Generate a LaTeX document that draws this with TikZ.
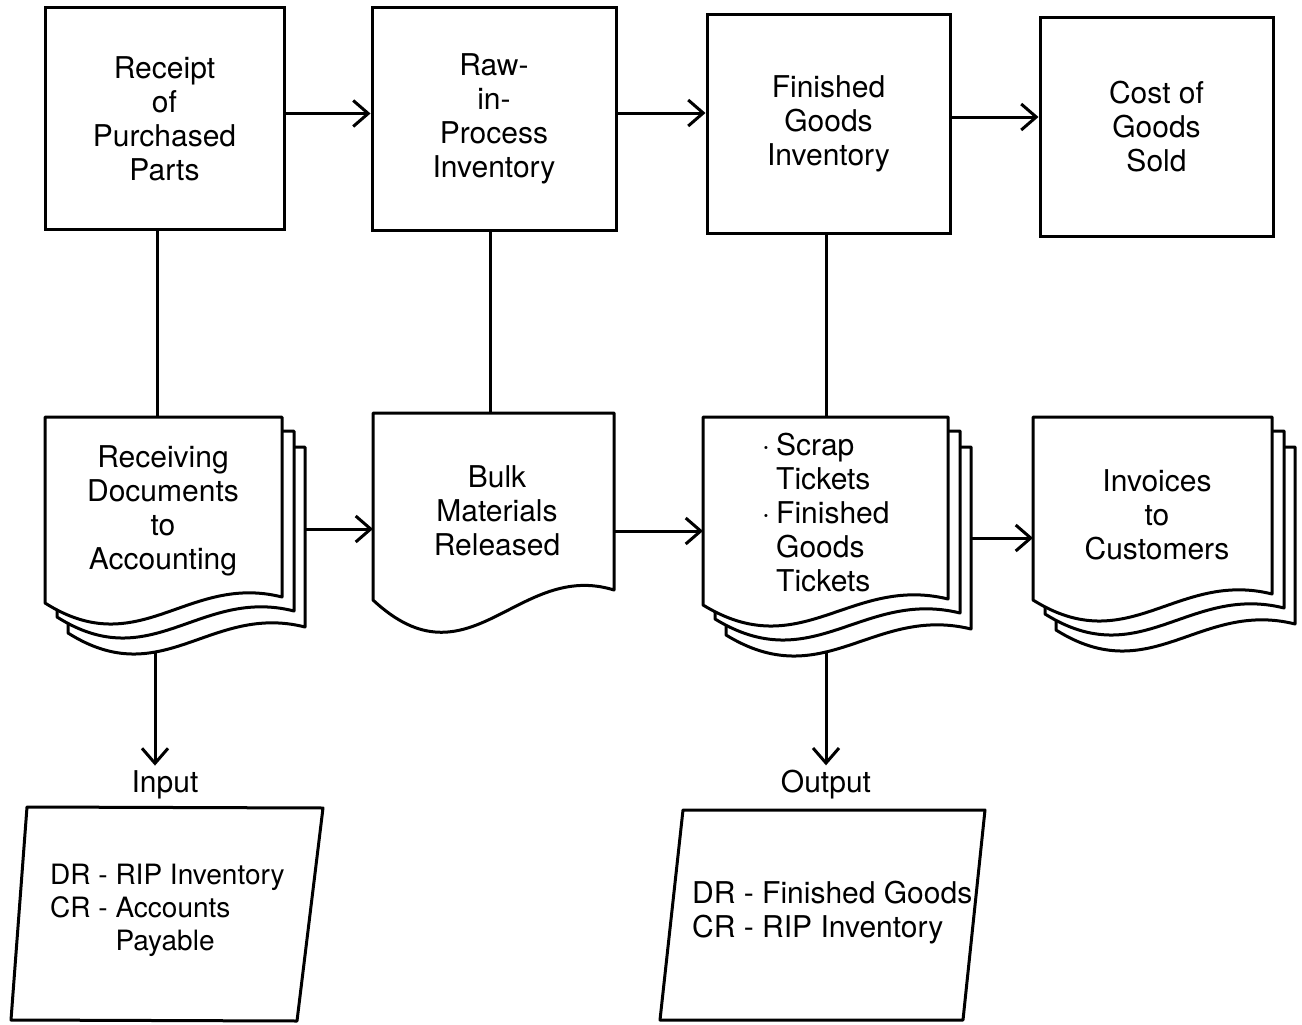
\documentclass[tikz,border=0pt]{standalone}
\usepackage{fontspec}
\setmainfont{TeX Gyre Heros}
\usetikzlibrary{arrows.meta}

\tikzset{
  x=1pt, y=-1pt,
  lw/.style={line width=3pt},
  txt/.style={align=center, inner sep=0pt, font=\fontsize{30}{34}\selectfont},
  box/.style={draw, lw, txt},
  lbl/.style={inner sep=5pt, font=\fontsize{30}{34}\selectfont},
  arr/.style={lw, -{Straight Barb[length=15pt,width=26pt]}},
  conn/.style={lw},
}

% one page of a document symbol: left x, top y, right x, bottom-left y,
% wave dip, wave rise, right-end rise
\newcommand\docpg[7]{%
  \draw[lw, fill=white, line join=round]
    ({#1},{#4}) -- ({#1},{#2}) -- ({#3},{#2}) -- ({#3},{(#4)-(#7)})
    .. controls ({(#1)+0.6*((#3)-(#1))},{(#4)-(#6)})
            and ({(#1)+0.4*((#3)-(#1))},{(#4)+(#5)}) .. ({#1},{#4}) -- cycle;}

% stack of three pages
\newcommand\multidoc[4]{%
  \docpg{(#1)+23}{(#2)+30}{(#3)+23}{(#4)+30}{60}{30}{6}%
  \docpg{(#1)+12}{(#2)+14}{(#3)+12}{(#4)+14}{60}{30}{6}%
  \docpg{#1}{#2}{#3}{#4}{60}{30}{6}}

\begin{document}
\begin{tikzpicture}
\useasboundingbox (0,0) rectangle (1302,1025);

% top row: process boxes
\node[box, minimum width=239pt, minimum height=221pt] (b1) at (164.5,118.5)
  {Receipt\\of\\Purchased\\Parts};
\node[box, minimum width=244pt, minimum height=222pt] (b2) at (494,119)
  {Raw-\\in-\\Process\\Inventory};
\node[box, minimum width=243pt, minimum height=218pt] (b3) at (828.5,124)
  {Finished\\Goods\\Inventory};
\node[box, minimum width=233pt, minimum height=218pt] (b4) at (1156.5,127)
  {Cost of\\Goods\\Sold};

\draw[arr] ([yshift=5pt]b1.east) -- ([yshift=5pt]b1.east -| b2.west);
\draw[arr] ([yshift=6pt]b2.east) -- ([yshift=6pt]b2.east -| b3.west);
\draw[arr] ([yshift=7pt]b3.east) -- ([yshift=7pt]b3.east -| b4.west);

% connection points on the document row
\coordinate (d1t) at (157,417);
\coordinate (d2t) at (490,413);
\coordinate (d3t) at (826,417);
\coordinate (d1r) at (305,529);
\coordinate (d2l) at (373,529);
\coordinate (d2r) at (614,531);
\coordinate (d3l) at (703,531);
\coordinate (d3r) at (970,538);
\coordinate (d4l) at (1033,538);
\coordinate (d1b) at (155,640);
\coordinate (d3b) at (826,645);

% labels under the documents
\node[lbl] (inl) at (165,785) {Input};
\node[lbl] (outl) at (826,785) {Output};

% down arrows (their upper ends are hidden by the pages)
\draw[arr] (d1b) -- (d1b |- inl.north);
\draw[arr] (d3b) -- (d3b |- outl.north);

% vertical links from boxes to documents
\draw[conn] (b1.south -| d1t) -- (d1t);
\draw[conn] (b2.south -| d2t) -- (d2t);
\draw[conn] (b3.south -| d3t) -- (d3t);

% document symbols
\multidoc{45}{417}{282}{603}
\docpg{373}{413}{614}{600}{90}{40}{10}
\multidoc{703}{417}{948}{605}
\multidoc{1033}{417}{1272}{600}

\node[txt] (d1) at (163,511) {Receiving\\Documents\\to\\Accounting};
\node[txt] (d2) at (497,511) {Bulk\\Materials\\Released};
\node[txt, align=left, anchor=west] (d3) at (776,513)
  {\llap{·\hspace{6pt}}Scrap\\Tickets\\\llap{·\hspace{6pt}}Finished\\Goods\\Tickets};
\node[txt] (d4) at (1157,515) {Invoices\\to\\Customers};

\draw[arr] (d1r) -- (d2l);
\draw[arr] (d2r) -- (d3l);
\draw[arr] (d3r) -- (d4l);

% journal entry parallelograms
\draw[lw, line join=round] (27,807) -- (323,808) -- (297,1021) -- (11,1020) -- cycle;
\draw[lw, line join=round] (683,810) -- (985,810) -- (963,1020) -- (660,1020) -- cycle;

\node[txt, align=left, anchor=west, font=\fontsize{28}{33}\selectfont] (je1) at (50,910)
  {DR - RIP Inventory\\CR - Accounts\\\hphantom{CR - }Payable};
\node[txt, align=left, anchor=west] (je2) at (692,913)
  {DR - Finished Goods\\CR - RIP Inventory};
\end{tikzpicture}
\end{document}
